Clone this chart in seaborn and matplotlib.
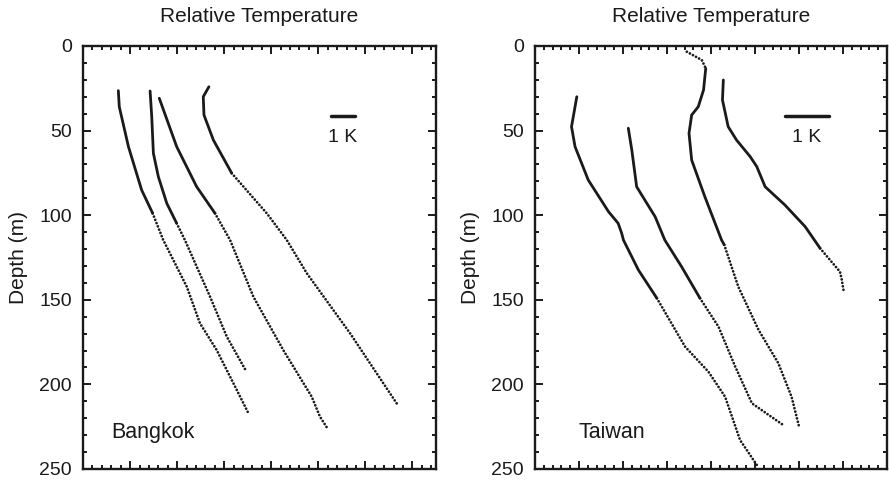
import matplotlib
matplotlib.use("Agg")
import matplotlib.pyplot as plt
from matplotlib.ticker import MultipleLocator, NullFormatter
import seaborn as sns

# temperature profiles: (relative temperature K, depth m)
# solid part and dotted part of each profile
bkk1_solid = [(1.50, 26.4), (1.54, 35.9), (1.93, 59.5), (2.49, 85.1), (2.96, 98.9)]
bkk1_dots = [(2.96, 98.9), (3.41, 114.7), (4.41, 142.3), (4.97, 163.9), (5.68, 179.7), (6.39, 199.3), (7.03, 217.1)]
bkk2_solid = [(2.85, 26.6), (2.92, 41.8), (2.99, 63.4), (3.20, 77.2), (3.56, 93.0), (3.98, 104.8)]
bkk2_dots = [(3.98, 104.8), (4.33, 114.7), (5.40, 148.2), (6.11, 171.8), (6.93, 192.1)]
bkk3_solid = [(3.24, 30.9), (3.98, 59.5), (4.83, 83.2), (5.61, 98.9)]
bkk3_dots = [(5.61, 98.9), (6.25, 114.7), (7.24, 148.2), (8.51, 179.7), (9.72, 207.3), (10.07, 219.1), (10.36, 225.4)]
bkk4_solid = [(5.35, 24.1), (5.11, 30.0), (5.14, 40.8), (5.54, 55.6), (6.32, 75.2)]
bkk4_dots = [(6.32, 75.2), (7.81, 98.9), (8.66, 114.7), (9.51, 134.3), (11.35, 169.8), (13.33, 211.2)]

tw1_solid = [(0.95, 30.0), (0.83, 47.7), (0.91, 59.5), (1.21, 79.2), (1.67, 97.9), (1.89, 104.8),
             (1.97, 110.7), (2.01, 114.7), (2.35, 132.4), (2.77, 149.1)]
tw1_dots = [(2.77, 149.1), (3.41, 177.7), (3.94, 192.5), (4.32, 207.3), (4.66, 232.9), (5.04, 247.6)]
tw2_solid = [(2.12, 48.6), (2.20, 61.5), (2.31, 83.2), (2.73, 100.9), (2.95, 114.7), (3.33, 130.4), (3.75, 149.1)]
tw2_dots = [(3.75, 149.1), (4.17, 165.9), (4.55, 189.5), (4.93, 211.2), (5.64, 224.0)]
tw3_top_dots = [(3.45, 3.4), (3.79, 8.3), (3.88, 13.2)]
tw3_solid = [(3.88, 13.2), (3.83, 26.0), (3.71, 35.9), (3.56, 40.8), (3.50, 51.6), (3.56, 67.4),
             (3.86, 89.1), (4.24, 114.7), (4.30, 117.5)]
tw3_dots = [(4.30, 117.5), (4.62, 142.3), (5.08, 167.8), (5.53, 187.5), (5.83, 207.3), (6.01, 225.9)]
tw4_solid = [(4.28, 20.1), (4.26, 31.9), (4.39, 47.7), (4.58, 55.6), (4.89, 65.4), (5.04, 71.3),
             (5.23, 83.2), (5.68, 94.0), (6.14, 106.8), (6.48, 119.6)]
tw4_dots = [(6.48, 119.6), (6.93, 133.4), (6.97, 138.0), (7.01, 144.2)]

INK = "#1a1a1a"

sns.set_style("ticks")
plt.rcParams["font.family"] = ["Liberation Sans", "DejaVu Sans"]
plt.rcParams["text.color"] = INK

fig = plt.figure(figsize=(8.89, 4.84), dpi=100)
ax1 = fig.add_axes([0.0934, 0.031, 0.397, 0.874])
ax2 = fig.add_axes([0.6018, 0.031, 0.396, 0.874])


def draw(ax, pts, dotted=False):
    t = [p[0] for p in pts]
    z = [p[1] for p in pts]
    if dotted:
        sns.lineplot(x=t, y=z, sort=False, estimator=None, ax=ax, color=INK,
                     lw=2.0, linestyle=(0, (0.01, 1.25)), dash_capstyle="round")
    else:
        sns.lineplot(x=t, y=z, sort=False, estimator=None, ax=ax, color=INK,
                     lw=2.0, solid_capstyle="round", solid_joinstyle="round")


for seg in [bkk1_solid, bkk2_solid, bkk3_solid, bkk4_solid]:
    draw(ax1, seg)
for seg in [bkk1_dots, bkk2_dots, bkk3_dots, bkk4_dots]:
    draw(ax1, seg, dotted=True)
for seg in [tw1_solid, tw2_solid, tw3_solid, tw4_solid]:
    draw(ax2, seg)
for seg in [tw1_dots, tw2_dots, tw3_top_dots, tw3_dots, tw4_dots]:
    draw(ax2, seg, dotted=True)

for ax, xmax, major, name, bar_x, lab_x in [
    (ax1, 15, 2, "Bangkok", (10.55, 11.55), 1.19),
    (ax2, 8, 1, "Taiwan", (5.68, 6.68), 0.98),
]:
    ax.set_xlim(0, xmax)
    ax.set_ylim(250, 0)
    ax.xaxis.set_major_locator(MultipleLocator(major))
    ax.xaxis.set_minor_locator(MultipleLocator(major / 5))
    ax.xaxis.set_major_formatter(NullFormatter())
    ax.yaxis.set_major_locator(MultipleLocator(50))
    ax.yaxis.set_minor_locator(MultipleLocator(10))
    ax.tick_params(which="both", direction="in", top=True, right=True, width=1.4,
                   color=INK, labelcolor=INK)
    ax.tick_params(which="major", length=6, labelsize=14, pad=8)
    ax.tick_params(which="minor", length=3)
    for sp in ax.spines.values():
        sp.set_linewidth(1.7)
        sp.set_color(INK)
    ax.set_xlabel("")
    ax.set_ylabel("Depth (m)", fontsize=15, labelpad=8, color=INK)
    ax.set_title("Relative Temperature", fontsize=15, pad=17, color=INK)
    # 1 K scale bar
    ax.plot(list(bar_x), [41.4, 41.4], color=INK, lw=2.5)
    ax.text(sum(bar_x) / 2, 54, "1 K", fontsize=14, ha="center", va="center")
    ax.text(lab_x, 231.5, name, fontsize=15.5, ha="left", va="baseline")

fig.savefig("out.png", dpi=100)
